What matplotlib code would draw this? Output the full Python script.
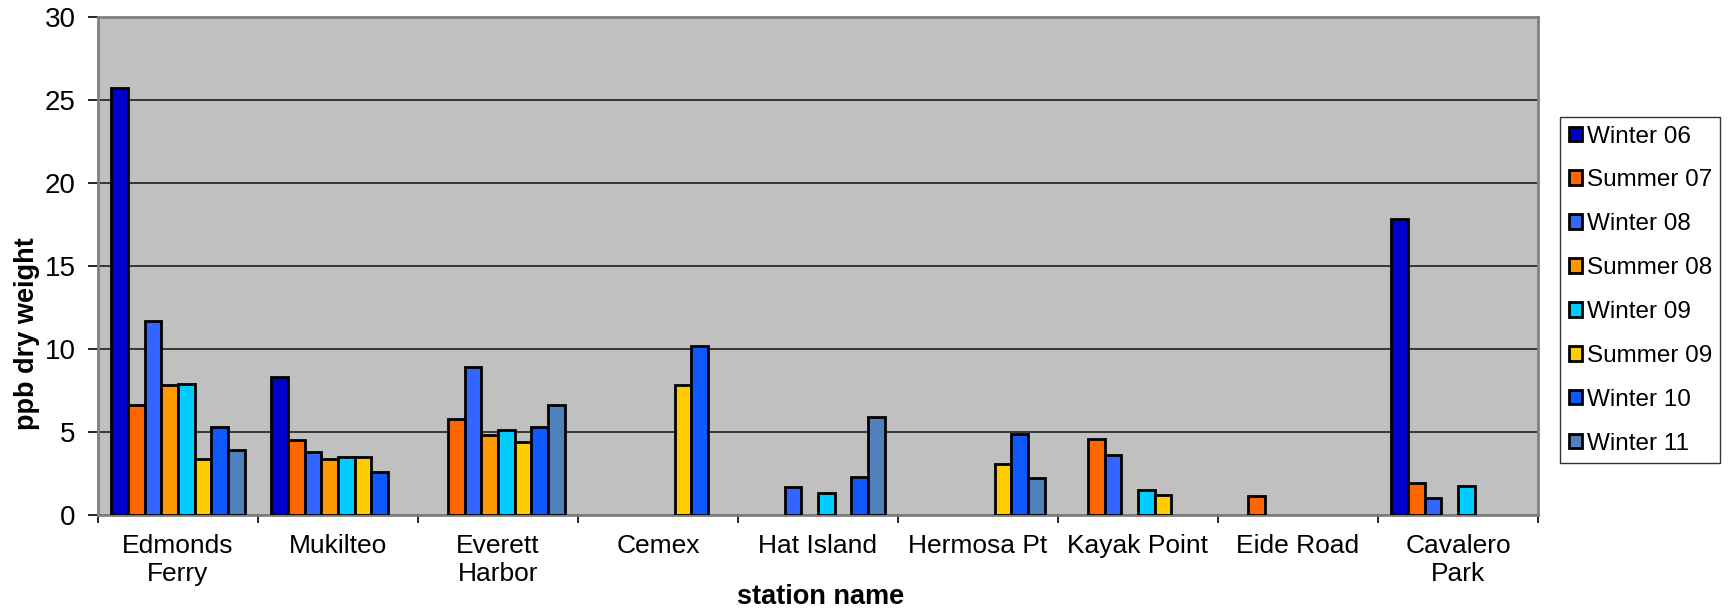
import numpy as np
import matplotlib
matplotlib.use("Agg")
import matplotlib.pyplot as plt
from matplotlib.patches import Patch
from matplotlib.ticker import FixedLocator, NullFormatter

plt.rcParams['font.family'] = ['Liberation Sans', 'DejaVu Sans']

stations = ["Edmonds\nFerry", "Mukilteo", "Everett\nHarbor", "Cemex", "Hat Island",
            "Hermosa Pt", "Kayak Point", "Eide Road", "Cavalero\nPark"]

nan = np.nan
winter_06 = [25.7, 8.3, nan, nan, nan, nan, nan, nan, 17.8]
summer_07 = [6.6, 4.5, 5.8, nan, nan, nan, 4.6, 1.15, 1.9]
winter_08 = [11.7, 3.8, 8.9, nan, 1.7, nan, 3.6, nan, 1.05]
summer_08 = [7.85, 3.35, 4.8, nan, nan, nan, nan, nan, nan]
winter_09 = [7.9, 3.5, 5.1, nan, 1.3, nan, 1.5, nan, 1.75]
summer_09 = [3.35, 3.5, 4.4, 7.85, nan, 3.1, 1.2, nan, nan]
winter_10 = [5.3, 2.6, 5.3, 10.2, 2.3, 4.85, nan, nan, nan]
winter_11 = [3.9, nan, 6.6, nan, 5.9, 2.25, nan, nan, nan]

series_names = ["Winter 06", "Summer 07", "Winter 08", "Summer 08",
                "Winter 09", "Summer 09", "Winter 10", "Winter 11"]
series_values = [winter_06, summer_07, winter_08, summer_08,
                 winter_09, summer_09, winter_10, winter_11]
series_colors = ["#0000CC", "#FF6600", "#3366FF", "#FF9900",
                 "#00CCFF", "#FFCC00", "#0F5AFF", "#4F81BD"]

W, H = 1733, 608
fig = plt.figure(figsize=(W / 100, H / 100), dpi=100)
left, right, top, bottom = 98, 1538, 16.7, 515
ax = fig.add_axes([left / W, (H - bottom) / H, (right - left) / W, (bottom - top) / H])
ax.set_facecolor("#C0C0C0")

x = np.arange(len(stations))
bw = 0.104
n = len(series_names)
for k, (vals, col) in enumerate(zip(series_values, series_colors)):
    offs = (k - (n - 1) / 2) * bw
    ax.bar(x + offs, vals, width=bw, color=col, edgecolor="black",
           linewidth=2.0, zorder=3)

ax.set_xlim(-0.5, len(stations) - 0.5)
ax.set_ylim(0, 30)
ax.set_yticks(np.arange(0, 31, 5))
ax.yaxis.grid(True, color="#111111", linewidth=1.1, zorder=0)
ax.set_axisbelow(True)

# category labels at centres, tick marks at category boundaries
ax.set_xticks(x)
ax.set_xticklabels(stations, fontsize=19, linespacing=1.2)
ax.tick_params(axis="x", which="major", length=0, pad=14)
ax.xaxis.set_minor_locator(FixedLocator(np.arange(-0.5, len(stations), 1.0)))
ax.xaxis.set_minor_formatter(NullFormatter())
ax.tick_params(axis="x", which="minor", length=6, width=1.2, color="black")
ax.tick_params(axis="y", length=7, width=1.2, color="black", pad=9, labelsize=20)

for s in ax.spines.values():
    s.set_color("#808080")
    s.set_linewidth(2)

fig.text(27 / W, 1 - 334 / H, "ppb dry weight", rotation=90, ha="center",
         va="center", fontsize=19.5, fontweight="bold")
fig.text(821 / W, 1 - 597 / H, "station name", ha="center", va="center",
         fontsize=19.5, fontweight="bold")

handles = [Patch(facecolor=c, edgecolor="black", linewidth=2.0) for c in series_colors]
leg = fig.legend(handles, series_names, loc="upper left",
                 bbox_to_anchor=(1560 / W, 1 - 117 / H), fontsize=17.5,
                 frameon=True, fancybox=False, edgecolor="black",
                 handlelength=0.55, handleheight=0.55, handletextpad=0.2,
                 labelspacing=0.9, borderpad=0.35, borderaxespad=0)
leg.get_frame().set_linewidth(1.0)

fig.savefig("out.png", dpi=100)
